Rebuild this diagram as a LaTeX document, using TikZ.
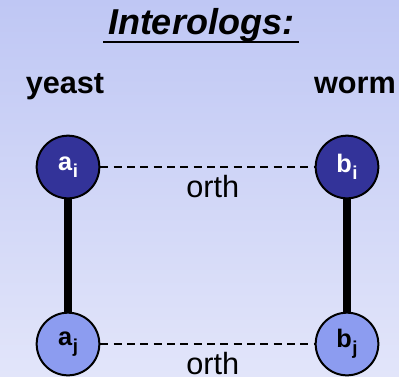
\documentclass[tikz,border=0pt]{standalone}
\usepackage{fontspec}
\setmainfont{Liberation Sans}
\usetikzlibrary{positioning}
\definecolor{protdark}{HTML}{333399}
\definecolor{protlight}{HTML}{8C9CF0}
\definecolor{bgtop}{HTML}{BFC7F4}
\definecolor{bgbottom}{HTML}{E2E5FA}
\newcommand{\prot}[2]{\textbf{#1\kern0.5pt\raisebox{-0.55ex}{\fontsize{14}{14}\selectfont #2}}}
\tikzset{
protein/.style={circle, draw=black, line width=1.5pt, minimum size=47pt, inner sep=0pt, font=\fontsize{19}{19}\selectfont}, % common look of the proteins
darkprot/.style={protein, fill=protdark, text=white},
lightprot/.style={protein, fill=protlight, text=black},
interaction/.style={line width=5.3pt}, % solid line for interactions
orthline/.style={line width=2pt, dash pattern=on 6pt off 4pt}, % dashed line for orthologs
species/.style={font=\fontsize{23}{23}\selectfont\bfseries, anchor=base},
}
\begin{document}
\begin{tikzpicture}[x=0.75pt, y=-0.75pt]
  \shade[top color=bgtop, bottom color=bgbottom] (0,0) rectangle (399,376);
  \useasboundingbox (0,0) rectangle (399,376);
  \node[anchor=base, font=\fontsize{27}{27}\selectfont\bfseries\itshape] (title) at (201,34) {Interologs:};
  \draw[line width=2.2pt] ([yshift=-6pt]title.base west) -- ([yshift=-6pt]title.base east);
  \node[species] (yeast) at (65,93) {yeast};
  \node[species] (worm) at (355,93) {worm};
  \node[darkprot] (ai) at (68,167) {\prot{a}{i}};
  \node[darkprot] (bi) at (347,167) {\prot{b}{i}};
  \node[lightprot] (aj) at (68,344) {\prot{a}{j}};
  \node[lightprot] (bj) at (347,344) {\prot{b}{j}};
  \draw[interaction] (ai) -- (aj);
  \draw[interaction] (bi) -- (bj);
  \draw[orthline] (ai) -- node[below=2pt, xshift=4pt, font=\fontsize{23}{23}\selectfont] (orth1) {orth} (bi);
  \draw[orthline] (aj) -- node[below=2pt, xshift=4pt, font=\fontsize{23}{23}\selectfont] (orth2) {orth} (bj);
\end{tikzpicture}
\end{document}
